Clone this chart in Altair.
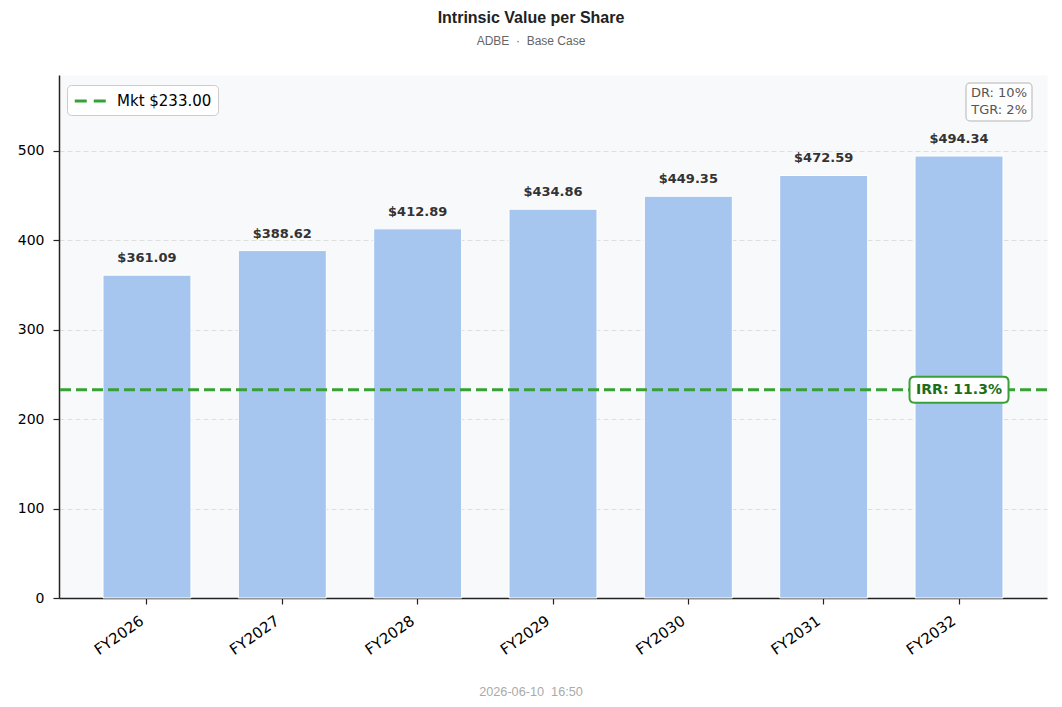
import altair as alt
import pandas as pd

# ---- data ----
years = ["FY2026", "FY2027", "FY2028", "FY2029", "FY2030", "FY2031", "FY2032"]
intrinsic_values = [361.09, 388.62, 412.89, 434.86, 449.35, 472.59, 494.34]
value_labels = ["$361.09", "$388.62", "$412.89", "$434.86", "$449.35", "$472.59", "$494.34"]
market_price = [233.00]
market_label = ["Mkt $233.00"]
irr_year = ["FY2032"]
irr_text = ["IRR: 11.3%"]
assumption_lines = ["DR: 10%", "TGR: 2%"]
y_tick_values = [0, 100, 200, 300, 400, 500]
title_text = "Intrinsic Value per Share"
subtitle_text = "ADBE\u00a0\u00a0·\u00a0\u00a0Base Case"
footer_text = ["2026-06-10\u00a0\u00a016:50"]

W, H = 988, 523
GREEN = "#37a137"

bars_df = pd.DataFrame({"year": years, "value": intrinsic_values, "label": value_labels})
mkt_df = pd.DataFrame({"price": market_price, "name": market_label})
irr_df = pd.DataFrame({"year": irr_year, "price": market_price, "text": irr_text})
assump_df = pd.DataFrame({"text": ["\n".join(assumption_lines)]})
footer_df = pd.DataFrame({"text": footer_text})

x_enc = alt.X(
    "year:N",
    sort=years,
    scale=alt.Scale(domain=years, paddingInner=0.35, paddingOuter=0.325),
    axis=alt.Axis(
        title=None, labelAngle=325, labelAlign="right", labelBaseline="top",
        labelFontSize=15, labelFont="DejaVu Sans", labelColor="#000",
        tickColor="#222", tickSize=6, tickWidth=1.2,
        domainColor="#222", domainWidth=1.5, labelPadding=9, labelOffset=-9,
        grid=False,
    ),
)
y_scale = alt.Scale(domain=[0, 585], nice=False, zero=True)
y_enc = alt.Y(
    "value:Q",
    scale=y_scale,
    axis=alt.Axis(
        title=None, values=y_tick_values, labelFontSize=14, labelFont="DejaVu Sans",
        labelColor="#000", tickColor="#222", tickSize=6, tickWidth=1.2,
        domainColor="#222", domainWidth=1.5, labelPadding=9,
        grid=True, gridDash=[5, 3], gridColor="#dedede", gridWidth=1,
    ),
)

bars = alt.Chart(bars_df).mark_bar(color="#a7c6ef", stroke="white", strokeWidth=1).encode(
    x=x_enc, y=y_enc
)

labels = alt.Chart(bars_df).mark_text(
    dy=-10, baseline="bottom", fontWeight="bold", fontSize=13,
    font="DejaVu Sans", color="#333333",
).encode(x=alt.X("year:N", sort=years), y=alt.Y("value:Q"), text="label:N")

rule = alt.Chart(mkt_df).mark_rule(strokeWidth=3, strokeDash=[11, 5]).encode(
    y=alt.Y("price:Q"),
    color=alt.Color(
        "name:N",
        scale=alt.Scale(range=[GREEN]),
        legend=alt.Legend(
            title=None, orient="none", legendX=8, legendY=10,
            symbolType="M -1,0 L 3,0", symbolSize=272, symbolStrokeWidth=3,
            symbolDash=[12, 7], symbolFillColor="transparent",
            labelFontSize=15, labelFont="DejaVu Sans",
            labelColor="#000", fillColor="white", strokeColor="#cccccc",
            cornerRadius=4, padding=6, labelOffset=24,
        ),
    ),
)

box_path = (
    "M -0.9,-0.263 L 0.9,-0.263 Q 1,-0.263 1,-0.163 L 1,0.163 Q 1,0.263 0.9,0.263 "
    "L -0.9,0.263 Q -1,0.263 -1,0.163 L -1,-0.163 Q -1,-0.263 -0.9,-0.263 Z"
)
irr_box = alt.Chart(irr_df).mark_point(
    shape=box_path, size=9801, filled=True, fill="white", stroke=GREEN,
    strokeWidth=2, opacity=1, fillOpacity=1, strokeOpacity=1,
).encode(x=alt.X("year:N", sort=years), y=alt.Y("price:Q"))

irr_label = alt.Chart(irr_df).mark_text(
    fontWeight="bold", fontSize=14, font="DejaVu Sans", color="#1b6e1b",
).encode(x=alt.X("year:N", sort=years), y=alt.Y("price:Q"), text="text:N")

assump_box = alt.Chart(assump_df).mark_rect(
    fill="white", fillOpacity=0.85, stroke="#cccccc", strokeWidth=1.5, cornerRadius=4,
).encode(x=alt.value(907), x2=alt.value(973), y=alt.value(8), y2=alt.value(46))

assump_text = alt.Chart(assump_df).mark_text(
    align="right", baseline="middle", lineBreak="\n", lineHeight=17,
    fontSize=13, font="DejaVu Sans", color="#555555",
).encode(x=alt.value(968), y=alt.value(18), text="text:N")

footer = alt.Chart(footer_df).mark_text(
    fontSize=12.7, font="Liberation Sans", color="#aaaaaa", baseline="middle",
).encode(x=alt.value(472), y=alt.value(617), text="text:N")

chart = alt.layer(
    bars, labels, rule, irr_box, irr_label, assump_box, assump_text, footer
).properties(
    width=W,
    height=H,
    padding={"left": 51, "top": 67, "right": 7, "bottom": 101},
    autosize=alt.AutoSizeParams(type="none"),
    background="white",
    title=alt.TitleParams(
        text=title_text, subtitle=subtitle_text, anchor="middle", dx=-22,
        font="Liberation Sans", fontSize=16, fontWeight="bold", color="#222222",
        subtitleFont="Liberation Sans", subtitleFontSize=12, subtitleColor="#666666",
        subtitlePadding=10, offset=28,
    ),
).configure_view(fill="#f8f9fa", stroke="transparent")

chart.save("out.html", embed_options={"renderer": "svg", "actions": False})
